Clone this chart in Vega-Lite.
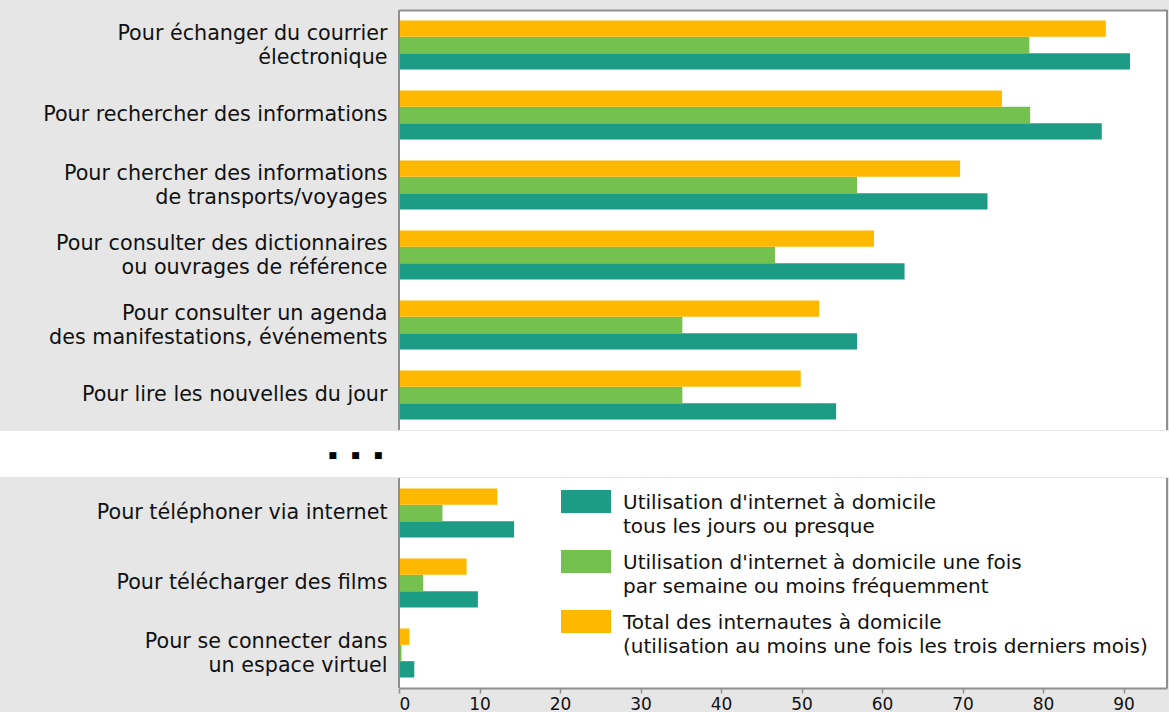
{
  "$schema": "https://vega.github.io/schema/vega-lite/v6.json",
  "background": "#e6e6e6",
  "padding": {"top": 9, "left": 0, "right": 3, "bottom": 0},
  "config": {
    "font": "DejaVu Sans",
    "view": {"stroke": null},
    "axis": {"labelFont": "DejaVu Sans", "labelColor": "#111111", "grid": false, "title": null, "domainColor": "#8f8f8f", "domainWidth": 2},
    "legend": {"labelFont": "DejaVu Sans"}
  },
  "datasets": {
    "haut": [
      {"usage": "Pour échanger du courrier|électronique", "serie": "Utilisation d'internet à domicile|tous les jours ou presque", "pct": 90.8},
      {"usage": "Pour échanger du courrier|électronique", "serie": "Utilisation d'internet à domicile une fois|par semaine ou moins fréquemment", "pct": 78.3},
      {"usage": "Pour échanger du courrier|électronique", "serie": "Total des internautes à domicile|(utilisation au moins une fois les trois derniers mois)", "pct": 87.8},
      {"usage": "Pour rechercher des informations", "serie": "Utilisation d'internet à domicile|tous les jours ou presque", "pct": 87.3},
      {"usage": "Pour rechercher des informations", "serie": "Utilisation d'internet à domicile une fois|par semaine ou moins fréquemment", "pct": 78.4},
      {"usage": "Pour rechercher des informations", "serie": "Total des internautes à domicile|(utilisation au moins une fois les trois derniers mois)", "pct": 74.9},
      {"usage": "Pour chercher des informations|de transports/voyages", "serie": "Utilisation d'internet à domicile|tous les jours ou presque", "pct": 73.1},
      {"usage": "Pour chercher des informations|de transports/voyages", "serie": "Utilisation d'internet à domicile une fois|par semaine ou moins fréquemment", "pct": 56.9},
      {"usage": "Pour chercher des informations|de transports/voyages", "serie": "Total des internautes à domicile|(utilisation au moins une fois les trois derniers mois)", "pct": 69.7},
      {"usage": "Pour consulter des dictionnaires|ou ouvrages de référence", "serie": "Utilisation d'internet à domicile|tous les jours ou presque", "pct": 62.8},
      {"usage": "Pour consulter des dictionnaires|ou ouvrages de référence", "serie": "Utilisation d'internet à domicile une fois|par semaine ou moins fréquemment", "pct": 46.7},
      {"usage": "Pour consulter des dictionnaires|ou ouvrages de référence", "serie": "Total des internautes à domicile|(utilisation au moins une fois les trois derniers mois)", "pct": 59.0},
      {"usage": "Pour consulter un agenda|des manifestations, événements", "serie": "Utilisation d'internet à domicile|tous les jours ou presque", "pct": 56.9},
      {"usage": "Pour consulter un agenda|des manifestations, événements", "serie": "Utilisation d'internet à domicile une fois|par semaine ou moins fréquemment", "pct": 35.2},
      {"usage": "Pour consulter un agenda|des manifestations, événements", "serie": "Total des internautes à domicile|(utilisation au moins une fois les trois derniers mois)", "pct": 52.2},
      {"usage": "Pour lire les nouvelles du jour", "serie": "Utilisation d'internet à domicile|tous les jours ou presque", "pct": 54.3},
      {"usage": "Pour lire les nouvelles du jour", "serie": "Utilisation d'internet à domicile une fois|par semaine ou moins fréquemment", "pct": 35.2},
      {"usage": "Pour lire les nouvelles du jour", "serie": "Total des internautes à domicile|(utilisation au moins une fois les trois derniers mois)", "pct": 49.9}
    ],
    "bas": [
      {"usage": "Pour téléphoner via internet", "serie": "Utilisation d'internet à domicile|tous les jours ou presque", "pct": 14.3},
      {"usage": "Pour téléphoner via internet", "serie": "Utilisation d'internet à domicile une fois|par semaine ou moins fréquemment", "pct": 5.4},
      {"usage": "Pour téléphoner via internet", "serie": "Total des internautes à domicile|(utilisation au moins une fois les trois derniers mois)", "pct": 12.2},
      {"usage": "Pour télécharger des films", "serie": "Utilisation d'internet à domicile|tous les jours ou presque", "pct": 9.8},
      {"usage": "Pour télécharger des films", "serie": "Utilisation d'internet à domicile une fois|par semaine ou moins fréquemment", "pct": 3.0},
      {"usage": "Pour télécharger des films", "serie": "Total des internautes à domicile|(utilisation au moins une fois les trois derniers mois)", "pct": 8.4},
      {"usage": "Pour se connecter dans|un espace virtuel", "serie": "Utilisation d'internet à domicile|tous les jours ou presque", "pct": 1.9},
      {"usage": "Pour se connecter dans|un espace virtuel", "serie": "Utilisation d'internet à domicile une fois|par semaine ou moins fréquemment", "pct": 0.3},
      {"usage": "Pour se connecter dans|un espace virtuel", "serie": "Total des internautes à domicile|(utilisation au moins une fois les trois derniers mois)", "pct": 1.3}
    ]
  },
  "spacing": 0,
  "resolve": {"scale": {"x": "independent", "y": "independent", "color": "independent"}, "legend": {"color": "independent"}},
  "vconcat": [
    {
      "spacing": 0,
      "resolve": {"scale": {"y": "independent", "color": "independent"}},
      "hconcat": [
        {
          "width": 398,
          "height": 420,
          "data": {"name": "haut"},
          "mark": {"type": "text"},
          "encoding": {
            "y": {"field": "usage", "type": "nominal", "sort": null,
              "scale": {"paddingInner": 0.3, "paddingOuter": 0.15},
              "axis": {"orient": "right", "domain": false, "ticks": false, "labelAlign": "right", "labelPadding": -11, "labelFontSize": 20.7, "labelLineHeight": 24.5, "labelLimit": 420, "labelExpr": "split(datum.label, '|')",
                "labelOffset": {"condition": {"test": "indexof(datum.label, '|') >= 0", "value": -12}, "value": -1}}},
            "text": {"value": ""}
          }
        },
        {
          "width": 768,
          "height": 420,
          "view": {"fill": "white", "stroke": null},
          "data": {"name": "haut"},
          "layer": [
            {
              "mark": {"type": "bar"},
              "encoding": {
                "y": {"field": "usage", "type": "nominal", "sort": null,
                  "scale": {"paddingInner": 0.3, "paddingOuter": 0.15}, "axis": null},
                "x": {"field": "pct", "type": "quantitative", "scale": {"domain": [0, 95.4], "nice": false},
                  "axis": {"orient": "top", "labels": false, "ticks": false}},
                "yOffset": {"field": "serie", "type": "nominal", "sort": ["Total des internautes à domicile|(utilisation au moins une fois les trois derniers mois)", "Utilisation d'internet à domicile une fois|par semaine ou moins fréquemment", "Utilisation d'internet à domicile|tous les jours ou presque"]},
                "color": {"field": "serie", "type": "nominal",
                  "scale": {"domain": ["Utilisation d'internet à domicile|tous les jours ou presque", "Utilisation d'internet à domicile une fois|par semaine ou moins fréquemment", "Total des internautes à domicile|(utilisation au moins une fois les trois derniers mois)"], "range": ["#1c9c84", "#74c150", "#ffb800"]},
                  "legend": null}
              }
            },
            {
              "data": {"values": [{"bord": 0}, {"bord": 95.4}]},
              "mark": {"type": "rule", "color": "#8f8f8f", "strokeWidth": 2},
              "encoding": {"x": {"field": "bord", "type": "quantitative"}}
            }
          ]
        }
      ]
    },
    {
      "width": 1169,
      "height": 46,
      "view": {"fill": "white", "stroke": null},
      "data": {"values": [{"t": "■\u00a0\u00a0\u00a0\u00a0\u00a0■\u00a0\u00a0\u00a0\u00a0\u00a0■"}]},
      "mark": {"type": "text", "fontSize": 9, "dx": -229, "dy": 1, "color": "#000000"},
      "encoding": {"text": {"field": "t", "type": "nominal"}}
    },
    {
      "spacing": 0,
      "resolve": {"scale": {"y": "independent", "color": "independent"}},
      "hconcat": [
        {
          "width": 398,
          "height": 210,
          "data": {"name": "bas"},
          "mark": {"type": "text"},
          "encoding": {
            "y": {"field": "usage", "type": "nominal", "sort": null,
              "scale": {"paddingInner": 0.3, "paddingOuter": 0.15},
              "axis": {"orient": "right", "domain": false, "ticks": false, "labelAlign": "right", "labelPadding": -11, "labelFontSize": 20.7, "labelLineHeight": 24.5, "labelLimit": 420, "labelExpr": "split(datum.label, '|')",
                "labelOffset": {"condition": {"test": "indexof(datum.label, '|') >= 0", "value": -12}, "value": -1}}},
            "text": {"value": ""}
          }
        },
        {
          "width": 768,
          "height": 210,
          "view": {"fill": "white", "stroke": null},
          "data": {"name": "bas"},
          "layer": [
            {
              "mark": {"type": "bar"},
              "encoding": {
                "y": {"field": "usage", "type": "nominal", "sort": null,
                  "scale": {"paddingInner": 0.3, "paddingOuter": 0.15}, "axis": null},
                "x": {"field": "pct", "type": "quantitative", "scale": {"domain": [0, 95.4], "nice": false},
                  "axis": {"orient": "bottom", "values": [0, 10, 20, 30, 40, 50, 60, 70, 80, 90], "ticks": true, "tickSize": 5, "tickColor": "#8f8f8f", "tickWidth": 1.5, "labelFontSize": 17, "labelPadding": 3}},
                "yOffset": {"field": "serie", "type": "nominal", "sort": ["Total des internautes à domicile|(utilisation au moins une fois les trois derniers mois)", "Utilisation d'internet à domicile une fois|par semaine ou moins fréquemment", "Utilisation d'internet à domicile|tous les jours ou presque"]},
                "color": {"field": "serie", "type": "nominal",
                  "scale": {"domain": ["Utilisation d'internet à domicile|tous les jours ou presque", "Utilisation d'internet à domicile une fois|par semaine ou moins fréquemment", "Total des internautes à domicile|(utilisation au moins une fois les trois derniers mois)"], "range": ["#1c9c84", "#74c150", "#ffb800"]},
                  "legend": {"orient": "none", "legendX": 162, "legendY": 12, "title": null,
                    "symbolType": "M-1,-1H1V-0.08H-1Z", "symbolSize": 2500, "symbolStrokeWidth": 0, "symbolOpacity": 1,
                    "labelFontSize": 20, "labelColor": "#111111", "labelOffset": 12, "labelLimit": 700, "rowPadding": 13,
                    "labelExpr": "split(datum.label, '|')",
                    "encode": {"labels": {"update": {"lineHeight": {"value": 24}, "dy": {"value": -12}}}}}}
              }
            },
            {
              "data": {"values": [{"bord": 0}, {"bord": 95.4}]},
              "mark": {"type": "rule", "color": "#8f8f8f", "strokeWidth": 2},
              "encoding": {"x": {"field": "bord", "type": "quantitative"}}
            }
          ]
        }
      ]
    }
  ]
}
